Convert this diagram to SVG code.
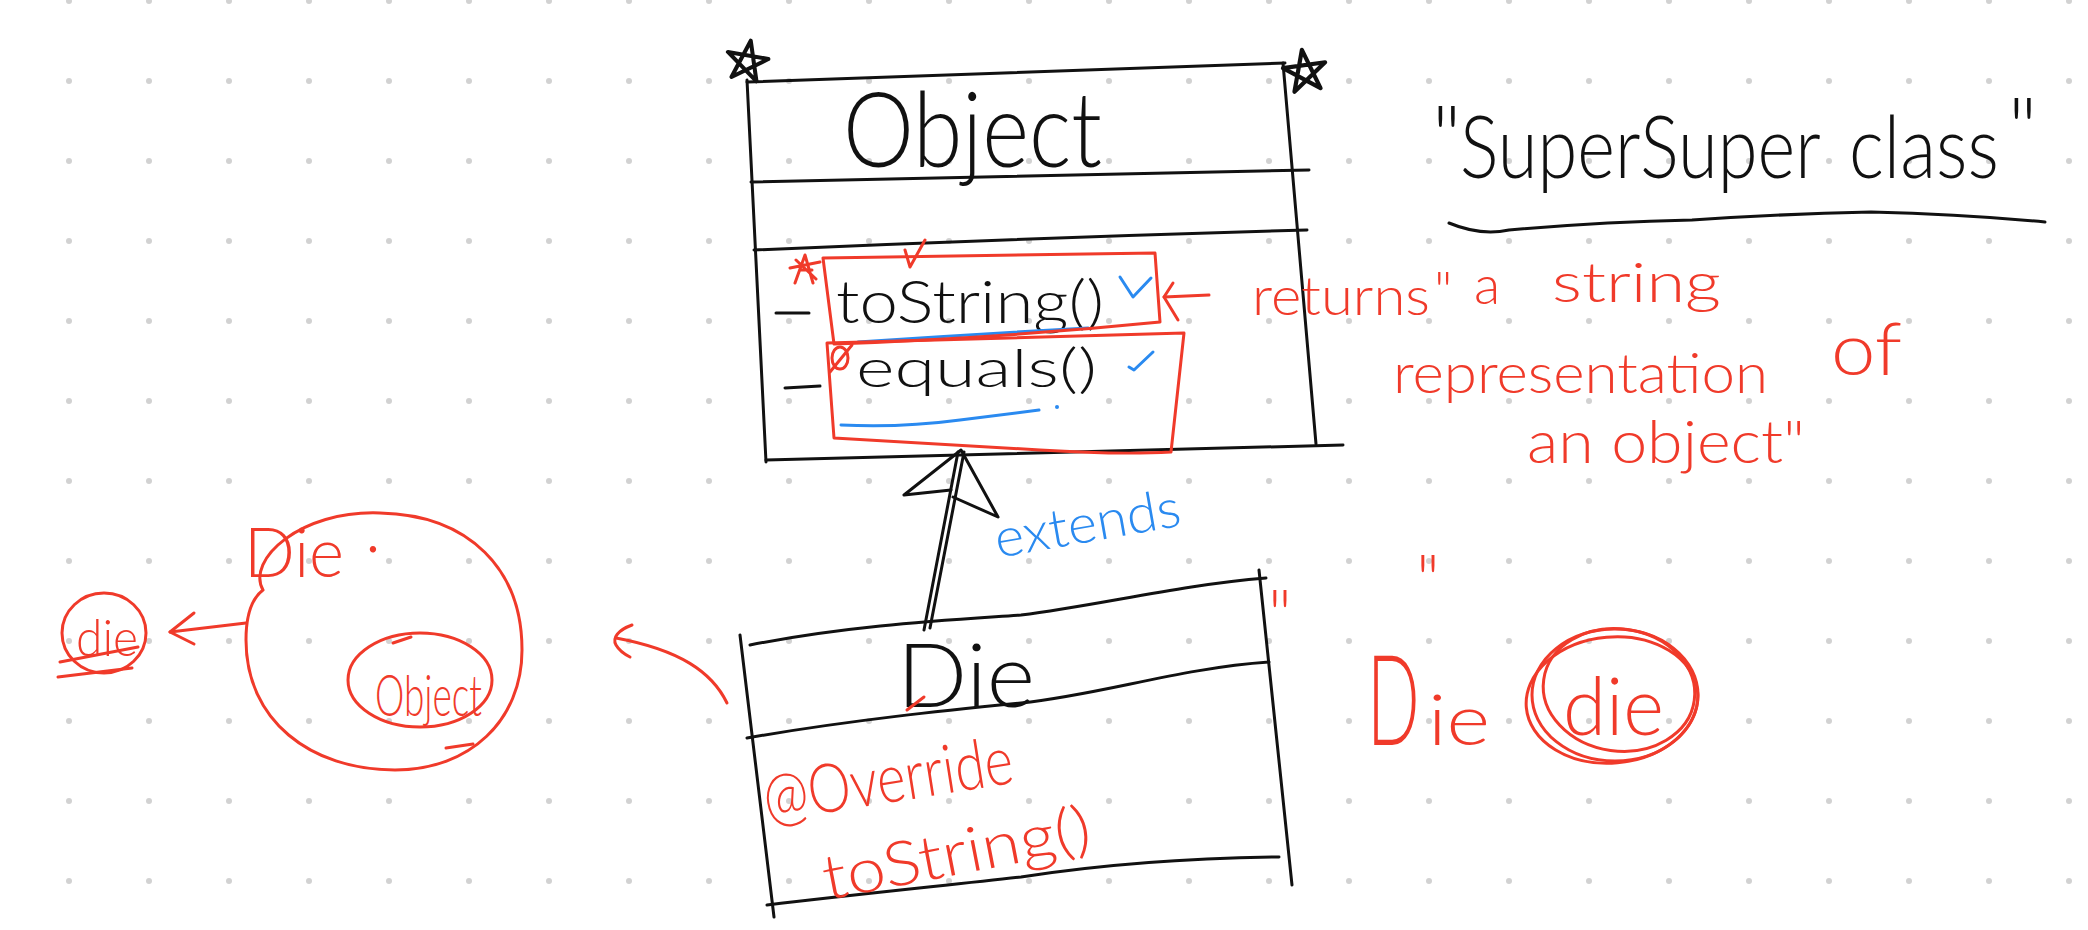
<svg xmlns="http://www.w3.org/2000/svg" width="2088" height="930" viewBox="0 0 2088 930">
<defs>
<pattern id="dots" x="29" y="-39" width="80" height="80" patternUnits="userSpaceOnUse">
<circle cx="40" cy="40" r="3" fill="#d2d2d2"/>
</pattern>
<path id="star" d="M0-16L9.4 12.9L-15.2-4.9L15.2-4.9L-9.4 12.9Z"/>
<style>
.k{stroke:#111;fill:none;stroke-width:3;stroke-linecap:round;stroke-linejoin:round}
.r{stroke:#f03a2a;fill:none;stroke-width:3;stroke-linecap:round;stroke-linejoin:round}
.b{stroke:#2a8af0;fill:none;stroke-width:3;stroke-linecap:round;stroke-linejoin:round}
text{font-family:Lato,"Liberation Sans",sans-serif;font-weight:300}
.tk{fill:#111}
.tr{fill:#f03a2a}
.tb{fill:#2a8af0}
</style>
</defs>
<rect width="2088" height="930" fill="#fff"/>
<rect width="2088" height="930" fill="url(#dots)"/>

<g id="node-object">
<path class="k" d="M747 82L1285 63"/>
<path class="k" d="M747 80L766 462"/>
<path class="k" d="M1283 63L1316 444"/>
<path class="k" d="M751 182Q1030 176 1309 170"/>
<path class="k" d="M754 250Q1030 238 1307 230"/>
<path class="k" d="M766 460Q1050 452 1343 445"/>
<use href="#star" class="k" transform="translate(747 62) rotate(10) scale(1.35)" stroke-width="2.4"/>
<use href="#star" class="k" transform="translate(1305 72) rotate(-8) scale(1.4)" stroke-width="2.4"/>
<text class="tk" x="843" y="167" font-size="104" textLength="259" lengthAdjust="spacingAndGlyphs">Object</text>
<path class="k" d="M776 313L809 313" stroke-width="6"/>
<path class="k" d="M785 388L820 386" stroke-width="4"/>
<text class="tk" x="836" y="323" font-size="60" textLength="268" lengthAdjust="spacingAndGlyphs">toString()</text>
<text class="tk" x="856" y="387" font-size="54" textLength="241" lengthAdjust="spacingAndGlyphs">equals()</text>
<path class="b" d="M858 342Q975 334 1088 328"/>
<path class="b" d="M841 425Q900 428 960 420L1039 410"/>
<circle cx="1057" cy="407" r="2" fill="#2a8af0"/>
<path class="b" d="M1120 277L1133 297L1151 278"/>
<path class="b" d="M1129 367L1134 370L1153 352"/>
<path class="r" d="M823 258L1155 253L1160 322Q1000 338 834 344Z"/>
<path class="r" d="M827 343L1184 333L1171 452Q1120 455 1040 450L834 438Z"/>
<path class="r" d="M905 250L910 267L925 240"/>
<path class="r" d="M795 283L805 255L813 283M790 268L820 262M796 260L816 279M800 270L812 270" stroke-width="4"/>
<ellipse class="r" cx="840" cy="358" rx="8" ry="11"/>
<path class="r" d="M830 372L852 345"/>
</g>

<g id="node-die">
<path class="k" d="M750 645C850 625 950 620 1021 615C1100 605 1180 585 1266 578"/>
<path class="k" d="M740 635L774 917"/>
<path class="k" d="M1259 570L1292 885"/>
<path class="k" d="M747 738C850 720 950 710 1021 703C1100 695 1180 668 1269 662"/>
<path class="k" d="M767 905C850 895 950 885 1021 877C1100 865 1180 858 1279 857"/>
<text class="tk" x="897" y="707" font-size="88" textLength="138" lengthAdjust="spacingAndGlyphs">Die</text>
<path class="r" d="M907 710L924 697"/>
<text class="tr" x="767" y="822" font-size="68" textLength="252" lengthAdjust="spacingAndGlyphs" transform="rotate(-9 767 822)">@Override</text>
<text class="tr" x="827" y="900" font-size="62" textLength="272" lengthAdjust="spacingAndGlyphs" transform="rotate(-11 827 900)">toString()</text>
</g>

<g id="connectors">
<path class="k" d="M924 630L958 452M930 628L964 452"/>
<path class="k" d="M904 495L961 450L998 517L953 497M904 495L951 490"/>
<text class="tb" x="998" y="558" font-size="54" textLength="188" lengthAdjust="spacingAndGlyphs" transform="rotate(-10 998 558)">extends</text>
<path class="r" d="M1209 295L1164 297"/>
<path class="r" d="M1173 283L1164 297L1178 320"/>
<path class="r" d="M727 703C712 672 680 650 616 638"/>
<path class="r" d="M632 625C618 630 612 638 616 645C620 652 626 655 630 657"/>
<path class="r" d="M246 623L170 632"/>
<path class="r" d="M194 613L170 632L194 644"/>
</g>

<g id="label-superclass">
<text class="tk" x="1432" y="168" font-size="86">"</text>
<text class="tk" transform="translate(1460 178) scale(0.84 1)" font-size="86">SuperSuper</text>
<text class="tk" transform="translate(1849 178) scale(0.86 1)" font-size="86">class</text>
<text class="tk" x="2008" y="160" font-size="86">"</text>
<path class="k" d="M1449 223Q1480 236 1509 230Q1600 222 1692 220Q1780 214 1871 212Q1960 214 2045 222"/>
</g>

<g id="note-returns">
<text class="tr" x="1252" y="315" font-size="54" textLength="178" lengthAdjust="spacingAndGlyphs">returns</text>
<text class="tr" x="1434" y="310" font-size="54">"</text>
<text class="tr" x="1474" y="304" font-size="54">a</text>
<text class="tr" x="1552" y="302" font-size="56" textLength="169" lengthAdjust="spacingAndGlyphs">string</text>
<text class="tr" x="1393" y="393" font-size="56" textLength="375" lengthAdjust="spacingAndGlyphs">representation</text>
<text class="tr" x="1831" y="375" font-size="72" textLength="71" lengthAdjust="spacingAndGlyphs">of</text>
<text class="tr" x="1527" y="463" font-size="60" textLength="278" lengthAdjust="spacingAndGlyphs">an object"</text>
</g>

<g id="node-die-circle">
<path class="r" d="M263 590C246 560 300 510 380 513C470 515 522 570 522 650C522 720 470 770 395 770C310 770 246 720 246 640C246 620 250 600 263 590"/>
<text class="tr" x="244" y="577" font-size="68" textLength="100" lengthAdjust="spacingAndGlyphs">Die</text>
<text class="tr" x="365" y="552" font-size="68">.</text>
<ellipse class="r" cx="420" cy="680" rx="72" ry="47"/>
<path class="r" d="M393 643L411 637"/>
<text class="tr" x="375" y="716" font-size="58" textLength="107" lengthAdjust="spacingAndGlyphs">Object</text>
<path class="r" d="M446 748L473 744"/>
</g>

<g id="node-die-small">
<ellipse class="r" cx="104" cy="633" rx="42" ry="40"/>
<text class="tr" x="76" y="656" font-size="52" textLength="62" lengthAdjust="spacingAndGlyphs">die</text>
<path class="r" d="M60 662L138 647M58 677L132 668"/>
</g>

<g id="node-die-right">
<text class="tr" transform="translate(1367 745) scale(0.55 1)" font-size="126">D</text>
<text class="tr" x="1428" y="745" font-size="70" textLength="62" lengthAdjust="spacingAndGlyphs">ie</text>
<ellipse class="r" cx="1615" cy="695" rx="83" ry="66"/>
<ellipse class="r" cx="1619" cy="690" rx="76" ry="61" transform="rotate(8 1619 690)"/>
<ellipse class="r" cx="1612" cy="700" rx="86" ry="63" transform="rotate(-5 1612 700)"/>
<text class="tr" x="1563" y="735" font-size="80" textLength="101" lengthAdjust="spacingAndGlyphs">die</text>
<text class="tr" x="1268" y="640" font-size="70">"</text>
<text class="tr" x="1416" y="605" font-size="70">"</text>
</g>
</svg>
